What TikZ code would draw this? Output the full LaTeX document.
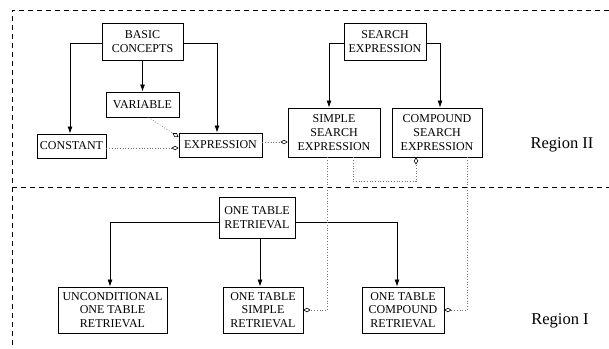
\documentclass[tikz,border=0pt]{standalone}
\usepackage{fontspec}
\setmainfont{Liberation Serif}
\usetikzlibrary{arrows.meta}
\tikzset{
  box/.style={draw,line width=0.9pt,align=center,inner sep=2pt,font=\fontsize{12}{13.8}\selectfont},
  isa/.style={line width=0.8pt,-{Latex[length=7pt,width=5pt]}},
  uses/.style={black!55,line width=0.7pt,dotted,-{Diamond[open,black,length=7pt,width=4.5pt,line width=0.6pt]}},
  region/.style={font=\fontsize{16.5}{19}\selectfont}
}
\begin{document}
\begin{tikzpicture}[x=1pt,y=-1pt]
      \useasboundingbox (0,0) rectangle (609,348);
      \draw[dashed,line width=0.8pt,dash pattern=on 5pt off 4pt] (609,10) -- (12,10) -- (12,348);
      \draw[dashed,line width=0.8pt,dash pattern=on 5pt off 4pt] (12,187) -- (609,187);
      \node[box,minimum width=81,minimum height=37] (basic) at (142.5,41.5) {BASIC\\CONCEPTS};
      \node[box,minimum width=73,minimum height=25] (variable) at (142.5,104.5) {VARIABLE};
      \node[box,minimum width=69,minimum height=24] (constant) at (71.5,146) {CONSTANT};
      \node[box,minimum width=83,minimum height=24] (expr) at (220.5,145) {EXPRESSION};
      \node[box,minimum width=82,minimum height=37] (search) at (385,41.5) {SEARCH\\EXPRESSION};
      \node[box,minimum width=92,minimum height=49] (simple) at (334,132.5) {SIMPLE\\SEARCH\\EXPRESSION};
      \node[box,minimum width=90,minimum height=49] (compound) at (437,132.5) {COMPOUND\\SEARCH\\EXPRESSION};
      \node[box,minimum width=76,minimum height=41] (otr) at (257,217.5) {ONE TABLE\\RETRIEVAL};
      \node[box,minimum width=109,minimum height=46] (uncond) at (112.5,310) {UNCONDITIONAL\\ONE TABLE\\RETRIEVAL};
      \node[box,minimum width=80,minimum height=46] (osr) at (263,310) {ONE TABLE\\SIMPLE\\RETRIEVAL};
      \node[box,minimum width=82,minimum height=46] (ocr) at (403,310) {ONE TABLE\\COMPOUND\\RETRIEVAL};
      \node[region] (reg2) at (562,145) {Region II};
      \node[region] (reg1) at (560,321) {Region I};
      \draw[isa] ([yshift=-1.5]basic.west) -| ([xshift=-1.5]constant.north);
      \draw[isa] (basic) -- (variable);
      \draw[isa] ([yshift=-1.5]basic.east) -| ([xshift=-3.5]expr.north);
      \draw[isa] ([yshift=-1.5]search.west) -| ([xshift=-5]simple.north);
      \draw[isa] ([yshift=-1.5]search.east) -| ([xshift=3]compound.north);
      \draw[isa] ([yshift=-4.5]otr.west) -| ([xshift=-2.5]uncond.north);
      \draw[isa] ([xshift=3]otr.south) -- ([xshift=3]otr.south |- osr.north);
      \draw[isa] ([yshift=-4.5]otr.east) -| ([xshift=-6]ocr.north);
      \draw[uses] ([yshift=-2]constant.east) -- ([yshift=-2]constant.east -| expr.west);
      \draw[uses] ([xshift=6]variable.south) -- ([yshift=8]expr.west);
      \draw[uses] ([yshift=3]expr.east) -- ([yshift=3]expr.east -| simple.west);
      \draw[uses] ([xshift=19]simple.south) -- ++(0,24) -| ([xshift=-21]compound.south);
      \draw[uses] ([xshift=-7]simple.south) |- (osr.east);
      \draw[uses] ([xshift=30]compound.south) |- (ocr.east);
\end{tikzpicture}
\end{document}
